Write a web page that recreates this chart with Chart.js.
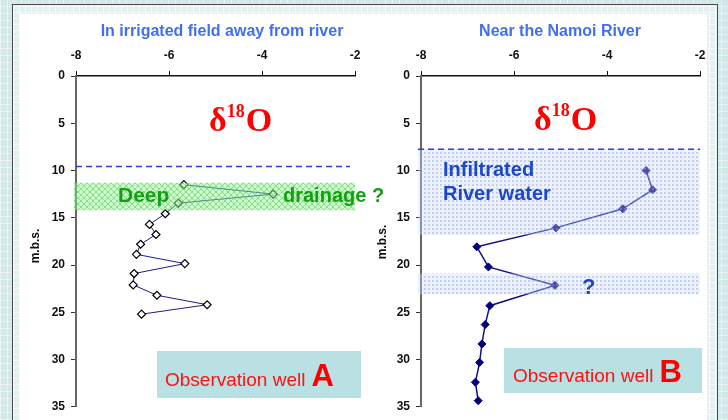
<!DOCTYPE html>
<html>
<head>
<meta charset="utf-8">
<script src="https://cdn.jsdelivr.net/npm/chart.js@4"></script>
<style>
  html, body { margin: 0; padding: 0; }
  body {
    width: 728px; height: 420px; overflow: hidden; position: relative;
    background-color: #d3e8e8;
    background-image:
      repeating-linear-gradient(0deg, rgba(255,255,255,0.45) 0 1px, transparent 1px 7px),
      repeating-linear-gradient(90deg, rgba(255,255,255,0.45) 0 1px, transparent 1px 7px);
  }
  #frame {
    position: absolute; left: 12px; top: 4px; width: 706px; height: 430px;
    border: 1.5px solid #4a4a4a; box-sizing: border-box;
    background-color: #e4f1f1;
    background-image:
      repeating-linear-gradient(0deg, rgba(255,255,255,0.6) 0 1px, transparent 1px 6px),
      repeating-linear-gradient(90deg, rgba(255,255,255,0.6) 0 1px, transparent 1px 6px);
  }
  #paper { position: absolute; left: 20px; top: 14px; width: 687px; height: 420px; background: #fff; }
  canvas { position: absolute; top: 0; }
  #left { left: 0; }
  #right { left: 364px; }
</style>
</head>
<body>
<div id="frame"></div>
<div id="paper"></div>
<canvas id="left" width="400" height="420"></canvas>
<canvas id="right" width="364" height="420"></canvas>
<script>
/* Axis ticks */
const xTicks = [-8, -6, -4, -2];
const depthTicks = [0, 5, 10, 15, 20, 25, 30, 35];

/* Well A (in irrigated field) */
const wellAdelta = [-5.68, -3.76, -5.80, -6.08, -6.42, -6.28, -6.61, -6.70, -5.66, -6.75, -6.77, -6.26, -5.18, -6.59];
const wellAdepth = [11.5, 12.5, 13.45, 14.57, 15.7, 16.77, 17.8, 18.87, 19.85, 20.9, 22.1, 23.2, 24.2, 25.2];

/* Well B (near the Namoi River) */
const wellBdelta = [-3.16, -3.02, -3.66, -5.10, -6.80, -6.55, -5.12, -6.52, -6.62, -6.69, -6.74, -6.83, -6.77];
const wellBdepth = [10.0, 12.05, 14.05, 16.07, 18.07, 20.2, 22.15, 24.3, 26.3, 28.35, 30.3, 32.4, 34.35];

/* Shaded zones (depth from, depth to) and dashed lines */
const drainageBand = [11.3, 14.2];
const waterTableA = 9.57;
const riverBands = [[7.76, 16.8], [20.9, 23.1]];
const waterTableB = 7.76;

const AXIS_FONT = { family: "'Liberation Sans', Arial, sans-serif", size: 12, weight: "bold" };

/* Patterns */
function makePattern(kind) {
  const c = document.createElement("canvas");
  const ctx = c.getContext("2d");
  if (kind === "cross") {
    c.width = 6; c.height = 6;
    ctx.fillStyle = "rgba(150,240,150,0.45)";
    ctx.fillRect(0, 0, 6, 6);
    ctx.strokeStyle = "rgba(70,210,70,0.55)";
    ctx.lineWidth = 1;
    ctx.beginPath();
    ctx.moveTo(0, 0); ctx.lineTo(6, 6);
    ctx.moveTo(6, 0); ctx.lineTo(0, 6);
    ctx.stroke();
  } else {
    c.width = 4; c.height = 4;
    ctx.fillStyle = "rgba(205,218,250,0.35)";
    ctx.fillRect(0, 0, 4, 4);
    ctx.fillStyle = "rgba(140,165,240,0.45)";
    ctx.fillRect(0, 0, 2, 2);
  }
  return ctx.createPattern(c, "repeat");
}

function dashed(ctx, x1, x2, y) {
  ctx.save();
  ctx.strokeStyle = "#2a3ce6";
  ctx.lineWidth = 1.5;
  ctx.setLineDash([6, 4]);
  ctx.beginPath();
  ctx.moveTo(x1, y); ctx.lineTo(x2, y);
  ctx.stroke();
  ctx.restore();
}

function text(ctx, str, x, y, font, color, align) {
  ctx.font = font;
  ctx.fillStyle = color;
  ctx.textAlign = align || "left";
  ctx.textBaseline = "alphabetic";
  ctx.fillText(str, x, y);
}

function drawDelta(ctx, x, y) {
  ctx.save();
  ctx.fillStyle = "#ff0000";
  ctx.textAlign = "left";
  ctx.textBaseline = "alphabetic";
  ctx.font = "bold 34px 'Liberation Serif', 'Times New Roman', serif";
  ctx.fillText("δ", x, y);
  let w = ctx.measureText("δ").width;
  ctx.font = "bold 18px 'Liberation Serif', 'Times New Roman', serif";
  ctx.fillText("18", x + w, y - 14);
  w += ctx.measureText("18").width + 1;
  ctx.font = "bold 34px 'Liberation Serif', 'Times New Roman', serif";
  ctx.fillText("O", x + w, y);
  ctx.restore();
}

function drawWellBox(ctx, x, y, w, h, letter, baseX, baseY) {
  ctx.save();
  ctx.fillStyle = "#b9e0e2";
  ctx.fillRect(x, y, w, h);
  text(ctx, "Observation well", baseX, baseY, "19px 'Liberation Sans', Arial, sans-serif", "#ff1111");
  const tw = ctx.measureText("Observation well").width;
  text(ctx, letter, baseX + tw + 6, baseY, "bold 31px 'Liberation Sans', Arial, sans-serif", "#ff0000");
  ctx.restore();
}

function mbs(ctx, x, y) {
  ctx.save();
  ctx.translate(x, y);
  ctx.rotate(-Math.PI / 2);
  ctx.font = "bold 12px 'Liberation Sans', Arial, sans-serif";
  ctx.fillStyle = "#111";
  ctx.textAlign = "center";
  ctx.textBaseline = "middle";
  ctx.fillText("m.b.s.", 0, 0);
  ctx.restore();
}

function axes(leftWidth) {
  return {
    x: {
      type: "linear", position: "top", min: -8, max: -2,
      afterBuildTicks: s => { s.ticks = xTicks.map(v => ({ value: v })); },
      ticks: { font: AXIS_FONT, color: "#111", padding: 8 },
      grid: { drawOnChartArea: false, tickLength: 5, color: "#111" },
      border: { color: "#111", width: 1.5 },
      afterFit: s => { s.height = 76; }
    },
    y: {
      type: "linear", reverse: true, min: 0, max: 35,
      afterBuildTicks: s => { s.ticks = depthTicks.map(v => ({ value: v })); },
      ticks: { font: AXIS_FONT, color: "#111", padding: 6 },
      grid: { drawOnChartArea: false, tickLength: 5, color: "#333" },
      border: { color: "#666", width: 2 },
      afterFit: s => { s.width = leftWidth; }
    }
  };
}

/* WELL A */
const wellAnotes = {
  id: "wellAnotes",
  afterDatasetsDraw(chart) {
    const { ctx, chartArea, scales } = chart;
    ctx.save();
    const y1 = scales.y.getPixelForValue(drainageBand[0]);
    const y2 = scales.y.getPixelForValue(drainageBand[1]);
    ctx.fillStyle = makePattern("cross");
    ctx.fillRect(chartArea.left - 2, y1, chartArea.right - chartArea.left + 2, y2 - y1);
    dashed(ctx, chartArea.left, chartArea.right - 5, scales.y.getPixelForValue(waterTableA));
    ctx.restore();
  },
  afterDraw(chart) {
    const ctx = chart.ctx;
    ctx.save();
    text(ctx, "In irrigated field away from river", 222, 36, "bold 16px 'Liberation Sans', Arial, sans-serif", "#4170ee", "center");
    drawDelta(ctx, 209, 131);
    text(ctx, "Deep", 118, 202, "bold 21px 'Liberation Sans', Arial, sans-serif", "#14a014");
    text(ctx, "drainage ?", 283, 202, "bold 20px 'Liberation Sans', Arial, sans-serif", "#14a014");
    mbs(ctx, 36, 246);
    drawWellBox(ctx, 157, 351, 204, 47, "A", 165, 386);
    ctx.restore();
  }
};

new Chart(document.getElementById("left"), {
  type: "scatter",
  data: {
    datasets: [{
      data: wellAdelta.map((v, i) => ({ x: v, y: wellAdepth[i] })),
      showLine: true,
      borderColor: "#1c1c8c",
      borderWidth: 1,
      pointStyle: "rectRot",
      pointRadius: 4,
      pointBackgroundColor: "#ffffff",
      pointBorderColor: "#000000",
      pointBorderWidth: 1.2
    }]
  },
  options: {
    responsive: false,
    animation: false,
    layout: { padding: { left: 0, right: 45, top: 0, bottom: 10 } },
    plugins: { legend: { display: false }, tooltip: { enabled: false } },
    scales: axes(76)
  },
  plugins: [wellAnotes]
});

/* WELL B */
const wellBnotes = {
  id: "wellBnotes",
  afterDatasetsDraw(chart) {
    const { ctx, chartArea, scales } = chart;
    ctx.save();
    ctx.fillStyle = makePattern("dots");
    riverBands.forEach(b => {
      const y1 = scales.y.getPixelForValue(b[0]);
      const y2 = scales.y.getPixelForValue(b[1]);
      ctx.fillRect(chartArea.left - 3, y1, chartArea.right - chartArea.left + 3, y2 - y1);
    });
    dashed(ctx, chartArea.left - 3, chartArea.right, scales.y.getPixelForValue(waterTableB));
    ctx.restore();
  },
  afterDraw(chart) {
    const ctx = chart.ctx;
    ctx.save();
    text(ctx, "Near the Namoi River", 196, 36, "bold 16px 'Liberation Sans', Arial, sans-serif", "#4170ee", "center");
    drawDelta(ctx, 170, 130);
    text(ctx, "Infiltrated", 79, 176, "bold 20px 'Liberation Sans', Arial, sans-serif", "#1d47c8");
    text(ctx, "River water", 79, 200, "bold 20px 'Liberation Sans', Arial, sans-serif", "#1d47c8");
    text(ctx, "?", 218, 294, "bold 22px 'Liberation Sans', Arial, sans-serif", "#1d47c8");
    mbs(ctx, 19, 242);
    drawWellBox(ctx, 140, 348, 198, 45, "B", 149, 382);
    ctx.restore();
  }
};

new Chart(document.getElementById("right"), {
  type: "scatter",
  data: {
    datasets: [{
      data: wellBdelta.map((v, i) => ({ x: v, y: wellBdepth[i] })),
      showLine: true,
      borderColor: "#10108a",
      borderWidth: 1.5,
      pointStyle: "rectRot",
      pointRadius: 4,
      pointBackgroundColor: "#00007a",
      pointBorderColor: "#00007a",
      pointBorderWidth: 1
    }]
  },
  options: {
    responsive: false,
    animation: false,
    layout: { padding: { left: 0, right: 28, top: 0, bottom: 10 } },
    plugins: { legend: { display: false }, tooltip: { enabled: false } },
    scales: axes(57)
  },
  plugins: [wellBnotes]
});
</script>
</body>
</html>
